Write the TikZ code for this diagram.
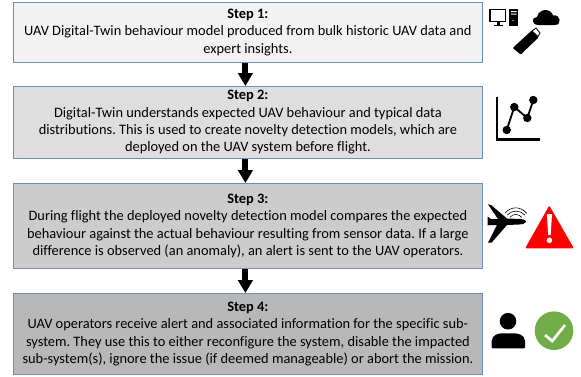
\documentclass[tikz,border=0pt]{standalone}
\usepackage{fontspec}
\setmainfont{Carlito}[Ligatures=NoCommon]
\usetikzlibrary{arrows.meta}
\definecolor{edgeb}{HTML}{6C8EBF}
\definecolor{okgreen}{HTML}{70AD47}
\tikzset{
  x=1pt,y=-1pt,
  stepbox/.style={draw=edgeb,line width=0.8pt,minimum width=469pt,align=center,inner sep=0pt,anchor=north west,font=\fontsize{14.4}{17.4}\selectfont},
  flow/.style={-{Triangle[length=13pt,width=14.5pt]},line width=6pt,black}
}
\frenchspacing
\begin{document}
\begin{tikzpicture}
\useasboundingbox (0,0) rectangle (581,376);
\node[stepbox,fill=black!5,minimum height=60pt] (s1) at (13,2) {\textbf{Step 1:}\\UAV Digital-Twin behaviour model produced from bulk historic UAV data and\\expert insights.};
\node[stepbox,fill=black!13,minimum height=72pt] (s2) at (13,86) {\textbf{Step 2:}\\Digital-Twin understands expected UAV behaviour and typical data\\distributions. This is used to create novelty detection models, which are\\deployed on the UAV system before flight.};
\node[stepbox,fill=black!20,minimum height=85pt] (s3) at (13,183) {\textbf{Step 3:}\\During flight the deployed novelty detection model compares the expected\\behaviour against the actual behaviour resulting from sensor data. If a large\\difference is observed (an anomaly), an alert is sent to the UAV operators.};
\node[stepbox,fill=black!28,minimum height=81pt] (s4) at (13,293) {\textbf{Step 4:}\\UAV operators receive alert and associated information for the specific sub-\\system. They use this to either reconfigure the system, disable the impacted\\sub-system(s), ignore the issue (if deemed manageable) or abort the mission.};
\draw[flow] ([xshift=-2.5pt]s1.south) -- ([xshift=-2.5pt]s2.north);
\draw[flow] ([xshift=-2.5pt]s2.south) -- ([xshift=-2.5pt]s3.north);
\draw[flow] ([xshift=-2.5pt]s3.south) -- ([xshift=-2.5pt]s4.north);
% computer
\draw[line width=1.3pt] (490,9.7) rectangle (505.5,21.5);
\fill (494,25) rectangle (502.7,26.4);
\fill (496.5,22) rectangle (500,25);
\fill (509.3,9) rectangle (518.3,26);
\fill[white] (511,11) rectangle (516.5,12) (511,13.5) rectangle (516.5,14.5);
\fill[white] (513,20.5) circle (0.7pt);
% cloud
\fill (539,25) .. controls (531,25) and (531,17.5) .. (537,17) .. controls (539,8) and (551,8) .. (553,15.5) .. controls (561,14) and (562,25) .. (555,25) -- cycle;
% usb
\fill[rounded corners=1pt] (512.7,48) -- (531.7,30.5) -- (538.5,37.5) -- (520.7,54.5) -- cycle;
\fill[white,draw=black,line width=0.8pt] (532,31) -- (536,28) -- (540,33) -- (538,36.5) -- cycle;
% chart
\draw[line width=2.2pt] (496.7,96.5) -- (496.7,139.5) -- (539.5,139.5);
\draw[line width=1.8pt] (506.7,130) -- (514.3,107) -- (527.3,118) -- (533.3,100);
\fill (506.7,130) circle (4.2pt) (514.3,107) circle (4.2pt) (527.3,118) circle (4.2pt) (533.3,100) circle (4.2pt);
% plane
\fill (488,204.3) -- (491,205) -- (507,218.5) -- (521,219) .. controls (525,219.5) and (527,221) .. (526,222) .. controls (525,224) and (522,224.5) .. (519,224.5) -- (507,225) -- (491.5,242.7) -- (488,242.7) -- (497,225) -- (491,225) -- (487.5,225.5) -- (487.5,216.5) -- (491,219) -- (498,219) -- cycle;
\draw[line width=0.6pt] (510,217.3) .. controls (513,213.5) and (518.5,213.5) .. (521.7,217.3);
\draw[line width=0.6pt] (507.3,215) .. controls (512,209.8) and (520,209.8) .. (525,215);
\draw[line width=0.6pt] (505,213.3) .. controls (511,206) and (520.5,206) .. (526.7,213.3);
% warning
\fill[red,draw=red,line join=round,line width=1.5pt] (549.3,207) -- (572.5,247.5) -- (526.5,247.5) -- cycle;
\fill[white] (546.8,214) -- (552,214) -- (550.7,235) -- (548.2,235) -- cycle;
\fill[white] (549.4,240.3) circle (2.8pt);
% person
\fill (508,321.2) circle (8.3pt);
\fill[rounded corners=1pt] (491.7,348.3) -- (491.7,342) .. controls (492,335) and (498,333.3) .. (503,333.3) -- (513,333.3) .. controls (518,333.3) and (525,335) .. (525,342) -- (525,348.3) -- cycle;
% check
\fill[okgreen] (554,330.7) circle (19.3pt);
\draw[white,line width=2.7pt] (545,335) -- (552.3,341) -- (565,325);
\end{tikzpicture}
\end{document}
